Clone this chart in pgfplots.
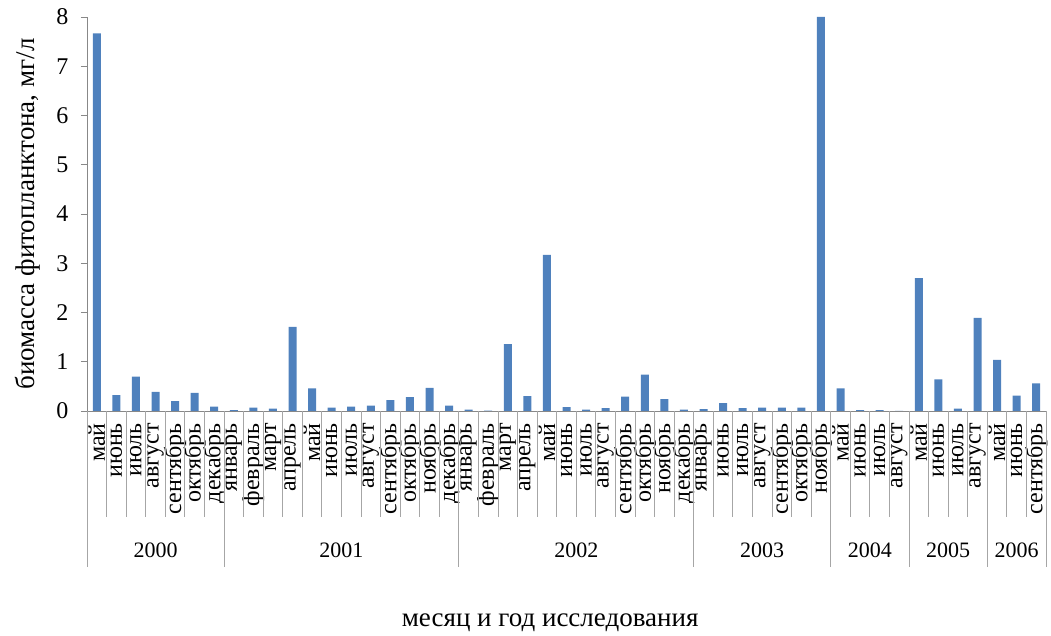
\documentclass[border=0pt]{standalone}
\usepackage{fontspec}
\setmainfont{Liberation Serif}
\usepackage{pgfplots}
\usepackage{pgfplotstable}
\pgfplotsset{compat=1.18}
\definecolor{barblue}{HTML}{4F81BD}
\definecolor{axgray}{HTML}{888888}
\definecolor{sepgray}{HTML}{A6A6A6}
\pgfplotstableread{
idx val
0 7.67
1 0.32
2 0.70
3 0.39
4 0.20
5 0.37
6 0.09
7 0.02
8 0.07
9 0.05
10 1.71
11 0.46
12 0.07
13 0.09
14 0.11
15 0.22
16 0.28
17 0.47
18 0.11
19 0.03
20 0.01
21 1.36
22 0.30
23 3.17
24 0.08
25 0.03
26 0.06
27 0.29
28 0.74
29 0.24
30 0.03
31 0.04
32 0.16
33 0.06
34 0.07
35 0.07
36 0.07
37 8.00
38 0.46
39 0.02
40 0.02
41 0.00
42 2.70
43 0.64
44 0.05
45 1.89
46 1.04
47 0.31
48 0.56
}\datatable
\begin{document}
\begin{tikzpicture}
\begin{axis}[
  at={(0,0)}, anchor=south west,
  width=959pt, height=394pt, scale only axis,
  xmin=-0.5, xmax=48.5, ymin=0, ymax=8,
  axis x line=bottom, axis y line=left,
  axis line style={draw=axgray, line width=0.8pt, -},
  ytick={0,1,...,8},
  ytick style={draw=axgray, line width=0.8pt},
  tick align=outside, major tick length=6pt,
  xtick={0,1,...,48},
  xtick style={draw=none},
  xticklabels={май,июнь,июль,август,сентябрь,октябрь,декабрь,
    январь,февраль,март,апрель,май,июнь,июль,август,сентябрь,октябрь,ноябрь,декабрь,
    январь,февраль,март,апрель,май,июнь,июль,август,сентябрь,октябрь,ноябрь,декабрь,
    январь,июнь,июль,август,сентябрь,октябрь,ноябрь,
    май,июнь,июль,август,
    май,июнь,июль,август,
    май,июнь,сентябрь},
  xticklabel style={rotate=90, anchor=east, font=\fontsize{24}{26}\selectfont, inner sep=3pt, xshift=-3pt},
  yticklabel style={font=\fontsize{24}{26}\selectfont, xshift=-9pt},
  /pgf/number format/assume math mode=true,
  ylabel={биомасса фитопланктона, мг/л},
  ylabel style={font=\fontsize{27}{29}\selectfont, at={(axis description cs:-0.0615,0.5)}, anchor=center},
  xlabel={месяц и год исследования},
  xlabel style={font=\fontsize{27}{29}\selectfont, at={(axis description cs:0.483,-0.538)}, anchor=center},
  clip=false,
  ybar, bar width=8pt,
]
\addplot[fill=barblue, draw=none] table[x=idx, y=val] {\datatable};
\pgfplotsinvokeforeach{0.5,1.5,2.5,3.5,4.5,5.5,7.5,8.5,9.5,10.5,11.5,12.5,13.5,14.5,15.5,16.5,17.5,19.5,20.5,21.5,22.5,23.5,24.5,25.5,26.5,27.5,28.5,29.5,31.5,32.5,33.5,34.5,35.5,36.5,38.5,39.5,40.5,42.5,43.5,44.5,46.5,47.5}{
  \draw[sepgray, line width=0.8pt] (axis cs:#1,0) -- ++(0pt,-106pt);
}
\pgfplotsinvokeforeach{-0.5,6.5,18.5,30.5,37.5,41.5,45.5,48.5}{
  \draw[sepgray, line width=0.8pt] (axis cs:#1,0) -- ++(0pt,-156pt);
}
\node[font=\fontsize{22}{24}\selectfont] at (axis cs:3,0) [yshift=-139pt] {2000};
\node[font=\fontsize{22}{24}\selectfont] at (axis cs:12.5,0) [yshift=-139pt] {2001};
\node[font=\fontsize{22}{24}\selectfont] at (axis cs:24.5,0) [yshift=-139pt] {2002};
\node[font=\fontsize{22}{24}\selectfont] at (axis cs:34,0) [yshift=-139pt] {2003};
\node[font=\fontsize{22}{24}\selectfont] at (axis cs:39.5,0) [yshift=-139pt] {2004};
\node[font=\fontsize{22}{24}\selectfont] at (axis cs:43.5,0) [yshift=-139pt] {2005};
\node[font=\fontsize{22}{24}\selectfont] at (axis cs:47,0) [yshift=-139pt] {2006};
\end{axis}
\pgfresetboundingbox
\useasboundingbox (-87pt,-225pt) rectangle (964pt,411pt);
\end{tikzpicture}
\end{document}
